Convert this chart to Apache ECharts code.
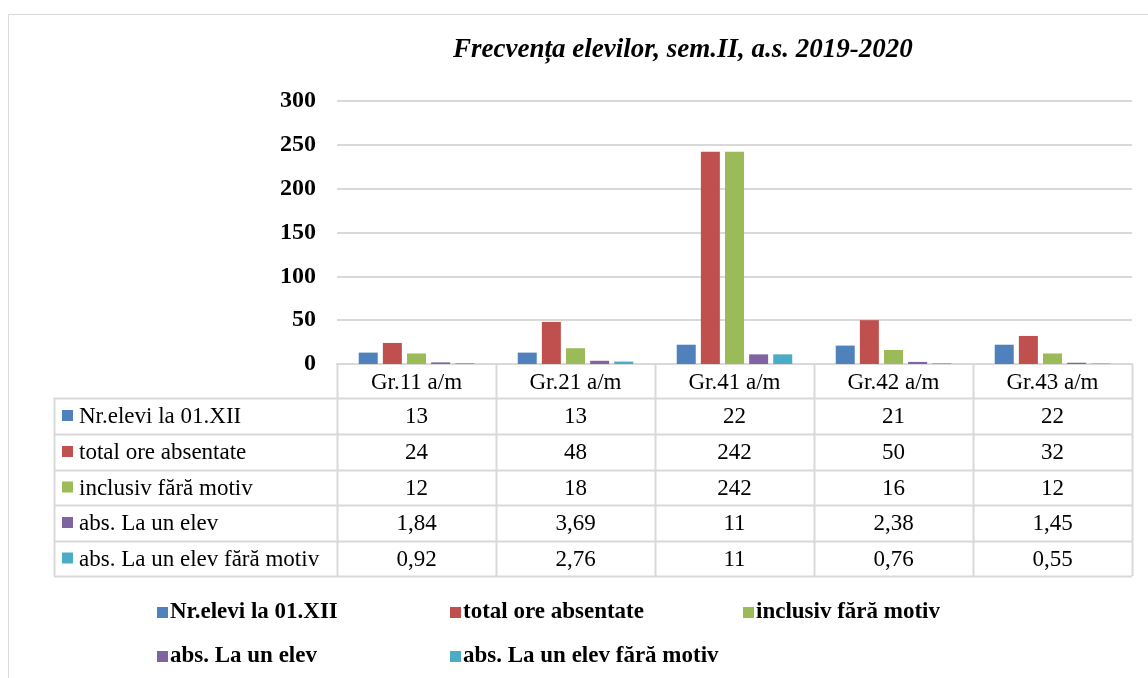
<!DOCTYPE html>
<html>
<head>
<meta charset="utf-8">
<script src="https://cdn.jsdelivr.net/npm/echarts@6/dist/echarts.min.js"></script>
<style>
  html, body { margin: 0; padding: 0; background: #fff; }
  #chart { width: 1148px; height: 678px; }
</style>
</head>
<body>
<div id="chart"></div>
<script>
// date
const categories = ['Gr.11 a/m', 'Gr.21 a/m', 'Gr.41 a/m', 'Gr.42 a/m', 'Gr.43 a/m'];
const seriesNames = ['Nr.elevi la 01.XII', 'total ore absentate', 'inclusiv fără motiv', 'abs. La un elev', 'abs. La un elev fără motiv'];
const nrElevi = [13, 13, 22, 21, 22];
const totalOre = [24, 48, 242, 50, 32];
const faraMotiv = [12, 18, 242, 16, 12];
const absElev = [1.84, 3.69, 11, 2.38, 1.45];
const absElevFaraMotiv = [0.92, 2.76, 11, 0.76, 0.55];
const yTicks = [0, 50, 100, 150, 200, 250, 300];

const seriesData = [nrElevi, totalOre, faraMotiv, absElev, absElevFaraMotiv];
const colors = ['#4F81BD', '#C0504D', '#9BBB59', '#8064A2', '#4BACC6'];
const font = '"Liberation Serif", "Times New Roman", serif';
const lineColor = '#d9d9d9';

// geometria zonei de desen si a tabelului
const plotLeft = 337, plotRight = 1132, plotTop = 101, plotBottom = 364;
const tableLeft = 54;
const rowLines = [398, 434, 470, 505, 541, 576];
const colW = (plotRight - plotLeft) / categories.length;

const chart = echarts.init(document.getElementById('chart'));

const graphic = [];
// chenarul exterior
graphic.push({
  type: 'rect', silent: true,
  shape: { x: 8.5, y: 14.5, width: 1300, height: 800 },
  style: { fill: null, stroke: lineColor, lineWidth: 1 }
});
// linii orizontale ale tabelului
rowLines.forEach(y => {
  graphic.push({
    type: 'line', silent: true,
    shape: { x1: tableLeft, y1: y + 0.5, x2: plotRight, y2: y + 0.5 },
    style: { stroke: lineColor, lineWidth: 2 }
  });
});
// linii verticale
graphic.push({
  type: 'line', silent: true,
  shape: { x1: tableLeft + 0.5, y1: rowLines[0], x2: tableLeft + 0.5, y2: rowLines[rowLines.length - 1] },
  style: { stroke: lineColor, lineWidth: 2 }
});
for (let i = 0; i <= categories.length; i++) {
  const x = Math.round(plotLeft + i * colW) + 0.5;
  graphic.push({
    type: 'line', silent: true,
    shape: { x1: x, y1: plotBottom, x2: x, y2: rowLines[rowLines.length - 1] },
    style: { stroke: lineColor, lineWidth: 2 }
  });
}
// etichete de rand cu marcaj colorat si valorile
seriesNames.forEach((name, r) => {
  const yc = (rowLines[r] + rowLines[r + 1]) / 2;
  graphic.push({
    type: 'rect', silent: true,
    shape: { x: 62, y: yc - 6, width: 11, height: 11 },
    style: { fill: colors[r] }
  });
  graphic.push({
    type: 'text', silent: true,
    style: { text: name, x: 79, y: yc + 1, textAlign: 'left', textVerticalAlign: 'middle',
             font: '23px ' + font, fill: '#000' }
  });
  seriesData[r].forEach((v, c) => {
    graphic.push({
      type: 'text', silent: true,
      style: { text: String(v).replace('.', ','), x: plotLeft + (c + 0.5) * colW, y: yc + 1,
               textAlign: 'center', textVerticalAlign: 'middle', font: '23px ' + font, fill: '#000' }
    });
  });
});

// legenda: cate o componenta pentru fiecare element, asezate pe doua randuri
const legendPos = [[157, 601], [450, 601], [743, 601], [157, 645], [450, 645]];
const legends = seriesNames.map((name, i) => ({
  data: [name],
  left: legendPos[i][0], top: legendPos[i][1],
  padding: 0,
  icon: 'rect', itemWidth: 11, itemHeight: 11,
  selectedMode: false,
  textStyle: { fontFamily: font, fontSize: 23, fontWeight: 'bold', color: '#000', padding: [0, 0, 0, -3] }
}));

const option = {
  animation: false,
  backgroundColor: '#fff',
  color: colors,
  title: {
    text: 'Frecvența elevilor, sem.II, a.s. 2019-2020',
    left: 448, top: 32,
    textStyle: { fontFamily: font, fontSize: 27, fontWeight: 'bold', fontStyle: 'italic', color: '#000' }
  },
  legend: legends,
  grid: { left: plotLeft, right: 1148 - plotRight, top: plotTop, bottom: 678 - plotBottom },
  xAxis: {
    type: 'category',
    data: categories,
    axisLine: { lineStyle: { color: lineColor, width: 2 } },
    axisTick: { show: false },
    axisLabel: { fontFamily: font, fontSize: 23, color: '#000', margin: 7 }
  },
  yAxis: {
    type: 'value',
    min: yTicks[0], max: yTicks[yTicks.length - 1], interval: yTicks[1] - yTicks[0],
    axisLine: { show: false },
    axisTick: { show: false },
    splitLine: { lineStyle: { color: lineColor, width: 2 } },
    axisLabel: { fontFamily: font, fontSize: 24, fontWeight: 'bold', color: '#000', margin: 21 }
  },
  graphic: graphic,
  series: seriesNames.map((name, i) => ({
    name: name,
    type: 'bar',
    data: seriesData[i],
    barWidth: 19,
    barGap: '27%',
    itemStyle: { color: colors[i] }
  }))
};

chart.setOption(option);
</script>
</body>
</html>
